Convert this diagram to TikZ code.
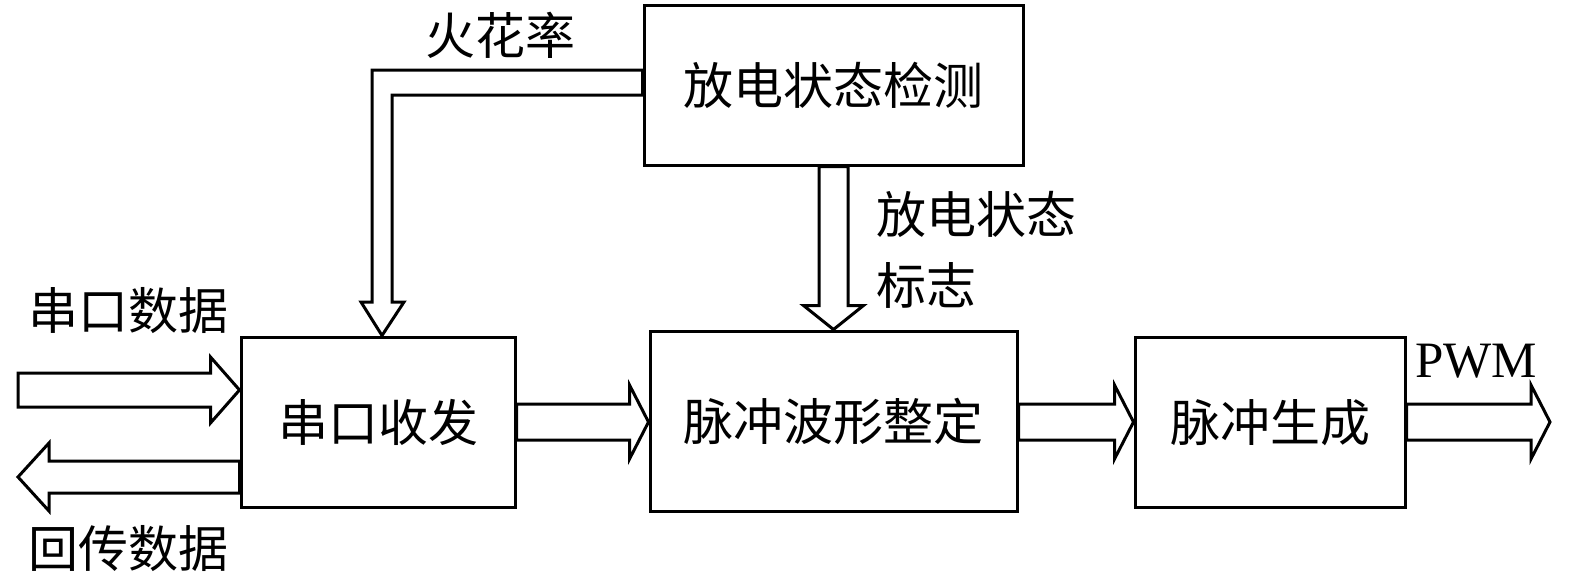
\documentclass[tikz,border=0pt]{standalone}
\usepackage{fontspec}
\setmainfont{Liberation Serif}
\newfontfamily\cjk{Noto Sans CJK SC}
\usetikzlibrary{calc}
\newcommand\rarr[5]{%
  \draw[barrow] let \p1=(#1), \p2=(#2) in
  (\x1,\y2+#3) -- (\x2-#5,\y2+#3) -- (\x2-#5,\y2+#4) -- (\x2,\y2) --
  (\x2-#5,\y2-#4) -- (\x2-#5,\y2-#3) -- (\x1,\y2-#3) -- cycle;}
\newcommand\larr[5]{%
  \draw[barrow] let \p1=(#1), \p2=(#2) in
  (\x1,\y2+#3) -- (\x2+#5,\y2+#3) -- (\x2+#5,\y2+#4) -- (\x2,\y2) --
  (\x2+#5,\y2-#4) -- (\x2+#5,\y2-#3) -- (\x1,\y2-#3) -- cycle;}
\newcommand\darr[5]{%
  \draw[barrow] let \p1=(#1), \p2=(#2) in
  (\x2+#3,\y1) -- (\x2+#3,\y2+#5) -- (\x2+#4,\y2+#5) -- (\x2,\y2) --
  (\x2-#4,\y2+#5) -- (\x2-#3,\y2+#5) -- (\x2-#3,\y1) -- cycle;}
\begin{document}
\begin{tikzpicture}[x=1pt,y=-1pt,
  box/.style={draw,line width=3pt,inner sep=0pt,text height=44pt,text depth=6pt,
    font=\cjk\fontsize{50}{60}\selectfont},
  lbl/.style={inner sep=0pt,text height=44pt,text depth=6pt,
    font=\cjk\fontsize{50}{60}\selectfont},
  barrow/.style={draw,line width=3pt,fill=white,line join=miter}]
\useasboundingbox (0,0) rectangle (1575,581);
% boxes
\node[box,minimum width=379pt,minimum height=160pt] (A) at (833.5,85) {放电状态检测};
\node[box,minimum width=274pt,minimum height=170pt] (B) at (378,422) {串口收发};
\node[box,minimum width=367pt,minimum height=180pt] (C) at (833.5,421) {脉冲波形整定};
\node[box,minimum width=270pt,minimum height=170pt] (D) at (1270,422) {脉冲生成};
% free ends
\coordinate (in) at (18,390);
\coordinate (out) at (18,477);
\coordinate (pwm) at (1550,422);
\coordinate (h1) at (372,70);
\coordinate (h2) at (392,95);
\coordinate (hb) at (382,302);
% block arrows
\rarr{in}{in -| B.west}{17pt}{33pt}{29pt}
\larr{out -| B.west}{out}{16pt}{34pt}{31pt}
\rarr{B.east}{C.west |- B.east}{18pt}{37pt}{19pt}
\rarr{C.east |- D.west}{D.west}{18pt}{37pt}{19pt}
\rarr{D.east}{pwm |- D.east}{18pt}{37pt}{19pt}
\darr{A.south}{C.north}{14.5pt}{30pt}{24pt}
\draw[barrow] (A.west |- h1) -- (h1) -- (h1 |- hb) -- ($(h1 |- hb)+(-11,0)$) --
  (hb |- B.north) -- ($(h2 |- hb)+(12,0)$) -- (h2 |- hb) -- (h2) -- (A.west |- h2) -- cycle;
% labels
\node[lbl,anchor=west] (t1) at (425,35) {火花率};
\node[lbl,anchor=west] (t2) at (28,310) {串口数据};
\node[lbl,anchor=west] (t3) at (28,548) {回传数据};
\node[lbl,anchor=west] (t4) at (876,214) {放电状态};
\node[lbl,anchor=west] (t5) at (876,285) {标志};
\node[anchor=base west,inner sep=0pt,font=\fontsize{51}{60}\selectfont] (t6) at (1415,377) {PWM};
\end{tikzpicture}
\end{document}
